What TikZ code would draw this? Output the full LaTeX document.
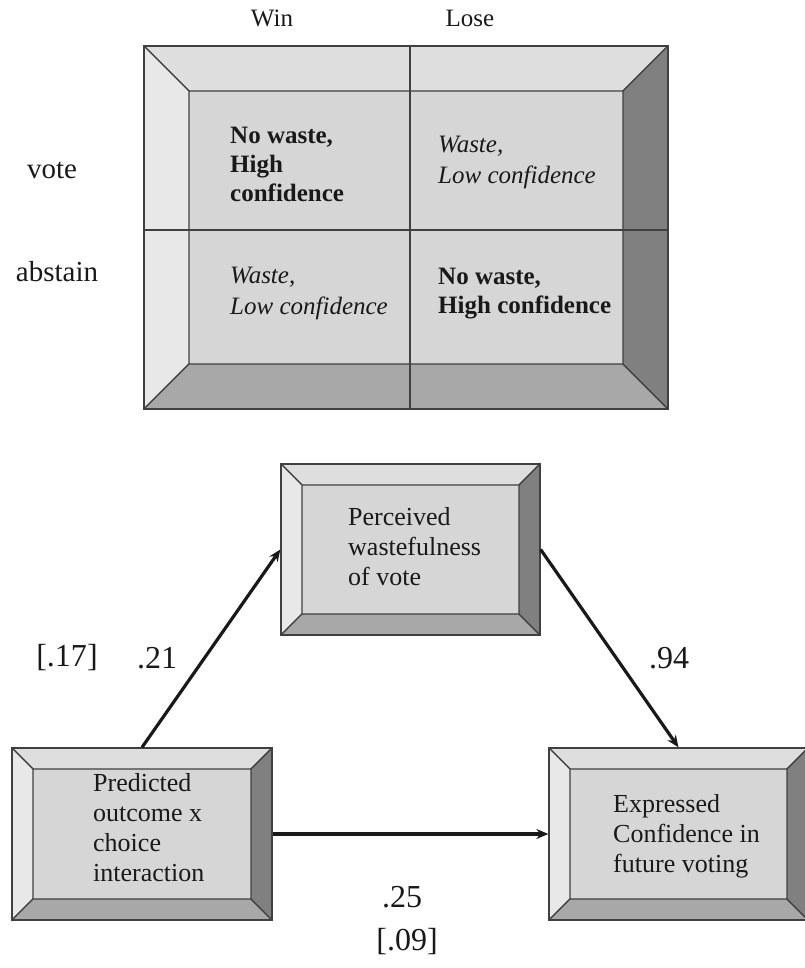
\documentclass[tikz,border=0pt]{standalone}
\usepackage{fontspec}
\setmainfont{Liberation Serif}
\usetikzlibrary{arrows.meta}
\definecolor{inkgray}{gray}{0.1}
\definecolor{rimgray}{gray}{0.25}
\definecolor{sidelight}{gray}{0.91}
\definecolor{toplight}{gray}{0.87}
\definecolor{facegray}{gray}{0.84}
\definecolor{lowgray}{gray}{0.66}
\definecolor{sidedark}{gray}{0.50}
\begin{document}
\begin{tikzpicture}[x=1pt,y=-1pt]
\tikzstyle{plain} = [inner sep=0, text=inkgray, font=\fontsize{25}{29}\selectfont]
\tikzstyle{rowname} = [plain, font=\fontsize{29}{33}\selectfont]
\tikzstyle{cell} = [plain, anchor=west, align=left]
\tikzstyle{boxtext} = [plain, font=\fontsize{26}{30}\selectfont, anchor=west, align=left]
\tikzstyle{weight} = [inner sep=0, text=inkgray, font=\fontsize{32}{36}\selectfont]
\tikzstyle{rim} = [draw=rimgray, line width=1.3pt]
\tikzstyle{link} = [line width=3.2pt, draw=inkgray, -{Stealth[length=12pt,width=10pt]}]
\tikzset{bevel/.style={rim, fill=facegray, inner sep=0, path picture={
  \coordinate (tl) at (path picture bounding box.north west);
  \coordinate (tr) at (path picture bounding box.north east);
  \coordinate (br) at (path picture bounding box.south east);
  \coordinate (bl) at (path picture bounding box.south west);
  \filldraw[rim, fill=toplight] (tl) -- (tr) -- ([shift={(-#1,-#1)}]tr) -- ([shift={(#1,-#1)}]tl) -- cycle;
  \filldraw[rim, fill=sidelight] (tl) -- ([shift={(#1,-#1)}]tl) -- ([shift={(#1,#1)}]bl) -- (bl) -- cycle;
  \filldraw[rim, fill=lowgray] (bl) -- ([shift={(#1,#1)}]bl) -- ([shift={(-#1,#1)}]br) -- (br) -- cycle;
  \filldraw[rim, fill=sidedark] (br) -- ([shift={(-#1,#1)}]br) -- ([shift={(-#1,-#1)}]tr) -- (tr) -- cycle;
}}}
\useasboundingbox (0,0) rectangle (804,968);

\node [bevel=45pt, minimum width=524pt, minimum height=363pt] (grid) at (406,227.5) {};
\draw [rim] ([xshift=4pt]grid.north) -- ([xshift=4pt]grid.south);
\draw [rim] ([yshift=-2.5pt]grid.west) -- ([yshift=-2.5pt]grid.east);
\node [plain] (win) at (272,18) {Win};
\node [plain] (lose) at (470,18) {Lose};
\node [rowname] (vote) at (52,170) {vote};
\node [rowname] (abstain) at (57,272) {abstain};
\node [cell, font=\fontsize{25}{29}\selectfont\bfseries] (c11) at (230,164) {No waste,\\High\\confidence};
\node [cell, font=\fontsize{25}{31}\selectfont\itshape] (c12) at (438,162) {Waste,\\Low confidence};
\node [cell, font=\fontsize{25}{31}\selectfont\itshape] (c21) at (230,293) {Waste,\\Low confidence};
\node [cell, font=\fontsize{25}{29}\selectfont\bfseries] (c22) at (438,294) {No waste,\\High confidence};

\node [bevel=21pt, minimum width=259pt, minimum height=171pt] (waste) at (410.5,549.5) {};
\node [bevel=21pt, minimum width=260pt, minimum height=172pt] (pred) at (142,834) {};
\node [bevel=21pt, minimum width=259pt, minimum height=172pt] (conf) at (678.5,834) {};
\node [boxtext] (wastetext) at (348,547) {Perceived\\wastefulness\\of vote};
\node [boxtext] (predtext) at (93,828) {Predicted\\outcome x\\choice\\interaction};
\node [boxtext] (conftext) at (613,836) {Expressed\\Confidence in\\future voting};

\draw [link] (pred.north) -- (waste.west);
\draw [link] (waste.east) -- (conf.north);
\draw [link] (pred.east) -- (conf.west);

\node [weight] (w17) at (67,658) {[.17]};
\node [weight] (w21) at (157,658) {.21};
\node [weight] (w94) at (669,658) {.94};
\node [weight] (w25) at (402,897) {.25};
\node [weight] (w09) at (407,942) {[.09]};
\end{tikzpicture}
\end{document}
